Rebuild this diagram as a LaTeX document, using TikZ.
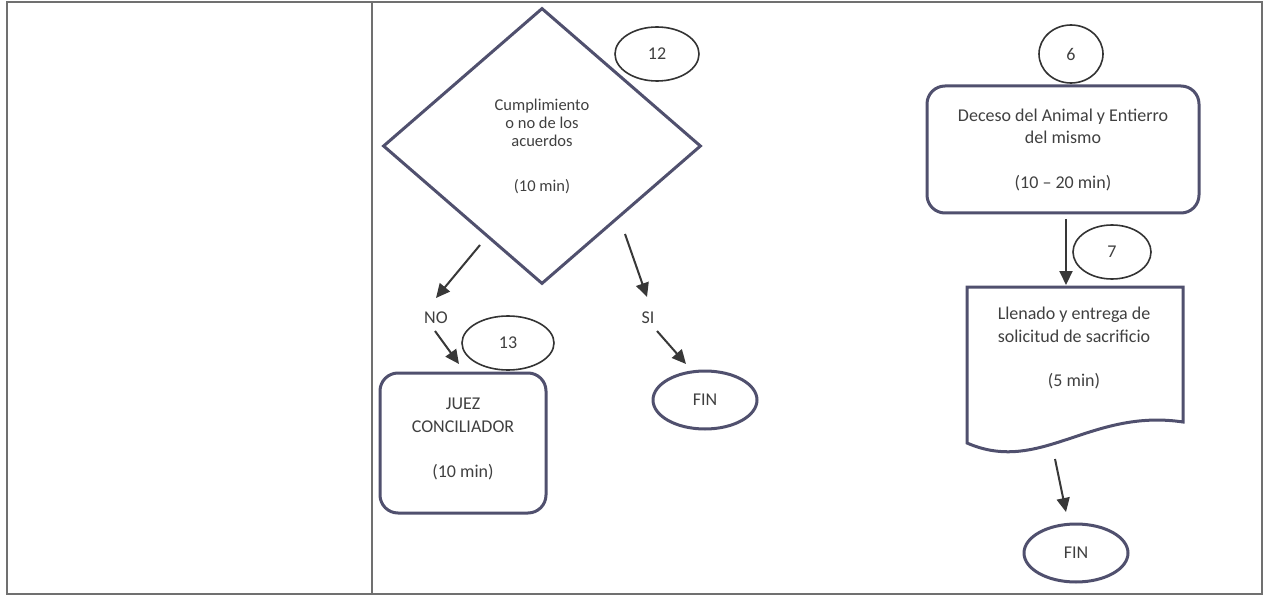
\documentclass[tikz,border=0pt]{standalone}
\usepackage{fontspec}
\setmainfont{Carlito}
\usetikzlibrary{shapes.geometric,arrows.meta}

\definecolor{linea}{HTML}{50506E}
\definecolor{texto}{HTML}{404040}
\definecolor{tabla}{HTML}{707070}
\definecolor{flechac}{HTML}{383838}

\begin{document}
\begin{tikzpicture}[x=1pt, y=-1pt,
        every node/.style={font=\fontsize{18}{22.5}\selectfont, text=texto, align=center},
        caja/.style={draw=linea, line width=3pt, rounded corners=18pt, inner sep=0pt},
        numero/.style={ellipse, draw=black!80, line width=1.6pt, inner sep=0pt},
        fin/.style={ellipse, draw=linea, line width=3pt, inner sep=0pt, minimum width=104pt, minimum height=58pt},
        flecha/.style={draw=flechac, line width=2pt, -{Triangle[length=14pt,width=13pt]}}]

            \fill[white] (0,0) rectangle (1266,596);
            \useasboundingbox (0,0) rectangle (1266,596);

            % tabla
            \draw[tabla, line width=1.5pt] (7,2) rectangle (1262,594);
            \draw[tabla, line width=1.5pt] (372,2) -- (372,594);

            % decision
            \node (acuerdos) [diamond, draw=linea, line width=3pt, inner sep=0pt,
                minimum width=318pt, minimum height=276pt, font=\fontsize{16.5}{18}\selectfont]
                at (542,146) {Cumplimiento\\o no de los\\acuerdos\\[27pt](10 min)};
            \node (n12) [numero, minimum width=84pt, minimum height=54pt] at (657,54) {12};

            \node (no) at (436,318) {NO};
            \node (si) at (648,318) {SI};
            \node (n13) [numero, minimum width=92pt, minimum height=54pt] at (508,343) {13};

            \node (juez) [caja, minimum width=166pt, minimum height=140pt]
                at (463,443) {};
            \node (juezTxt) at (463,439) {JUEZ\\CONCILIADOR\\[23pt](10 min)};
            \node (fin1) [fin] at (705,400) {FIN};

            % sacrificio
            \node (n6) [numero, minimum width=64pt, minimum height=58pt] at (1071,54) {6};
            \node (deceso) [caja, minimum width=272pt, minimum height=127pt]
                at (1063,149.5) {Deceso del Animal y Entierro\\del mismo\\[22pt](10 -- 20 min)};
            \node (n7) [numero, minimum width=78pt, minimum height=54pt] at (1112,252) {7};

            \draw[linea, line width=3pt] (967,443) -- (967,287) -- (1183,287) -- (1183,422)
                .. controls (1090,408) and (1040,475) .. (967,443) -- cycle;
            \node (llenado) at (1074,348) {Llenado y entrega de\\solicitud de sacrificio\\[22pt](5 min)};
            \node (fin2) [fin] at (1076,553) {FIN};

            % flechas
            \coordinate (noIni) at (480,245);
            \coordinate (noFin) at (436,298);
            \coordinate (juezIni) at (435,331);
            \coordinate (juezFin) at (459,364);
            \coordinate (siIni) at (625,234);
            \coordinate (siFin) at (647,297);
            \coordinate (finIni) at (657,331);
            \coordinate (finFin) at (686,364);
            \coordinate (decIni) at (1066,219);
            \coordinate (decFin) at (1066,285);
            \coordinate (llenIni) at (1055,459);
            \coordinate (llenFin) at (1066,512);

            \draw[flecha] (noIni) -- (noFin);
            \draw[flecha] (juezIni) -- (juezFin);
            \draw[flecha] (siIni) -- (siFin);
            \draw[flecha] (finIni) -- (finFin);
            \draw[flecha] (decIni) -- (decFin);
            \draw[flecha] (llenIni) -- (llenFin);
\end{tikzpicture}
\end{document}
